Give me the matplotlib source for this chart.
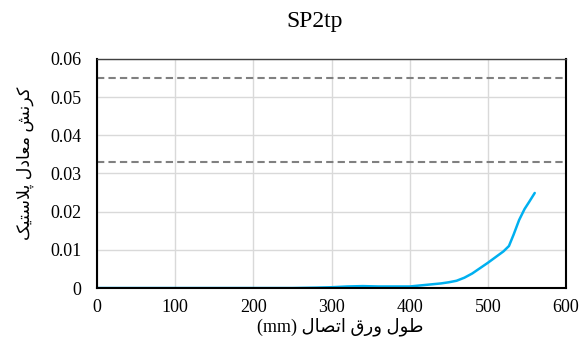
import matplotlib
matplotlib.use("Agg")
import matplotlib.pyplot as plt

# ---- data ----
x_mm = [0, 50, 100, 150, 200, 250, 280, 300, 320, 340, 360, 380, 400, 420, 440,
        450, 460, 470, 480, 490, 500, 510, 520, 527, 533, 540, 547, 553, 560]
peeq = [0, 0, 0, 0, 0, 0, 0.0001, 0.0002, 0.0004, 0.0005, 0.0004, 0.0004, 0.0004,
        0.0008, 0.0012, 0.0015, 0.0019, 0.0027, 0.0038, 0.0052, 0.0066, 0.0081,
        0.0096, 0.0110, 0.0140, 0.0178, 0.0207, 0.0226, 0.0249]
limit_lines = [0.055, 0.033]
x_ticks = [0, 100, 200, 300, 400, 500, 600]
y_ticks = [0, 0.01, 0.02, 0.03, 0.04, 0.05, 0.06]
y_tick_labels = ["0", "0.01", "0.02", "0.03", "0.04", "0.05", "0.06"]
title = "SP2tp"

# Persian labels pre-shaped (presentation forms, visual order)
def vis(s):
    return s[::-1]

# کرنش معادل پلاستیک
w1 = "\uFB90\uFEAE\uFEE7\uFEB6"               # کرنش
w2 = "\uFEE3\uFECC\uFE8E\uFEA9\uFEDD"         # معادل
w3 = "\uFB58\uFEFC\uFEB3\uFE98\uFBFF\uFB8F"   # پلاستیک
ylabel = vis(w1 + " " + w2 + " " + w3)
# طول ورق اتصال (mm)
v1 = "\uFEC3\uFEEE\uFEDD"                     # طول
v2 = "\uFEED\uFEAD\uFED5"                     # ورق
v3 = "\uFE8D\uFE97\uFEBC\uFE8E\uFEDD"         # اتصال
xlabel = "(mm) " + vis(v1 + " " + v2 + " " + v3)

plt.rcParams['font.family'] = ['Liberation Serif', 'DejaVu Sans']

fig = plt.figure(figsize=(5.82, 3.47), dpi=100)
ax = fig.add_axes([0.1667, 0.170, 0.8058, 0.660])

ax.grid(True, color="#d9d9d9", linewidth=1.0)
ax.set_axisbelow(True)
for yl in limit_lines:
    ax.axhline(yl, color="#808080", linestyle=(0, (3.5, 2.0)), linewidth=1.5)
ax.plot(x_mm, peeq, color="#00B0F0", linewidth=1.8, solid_capstyle="round")

ax.set_xlim(0, 600)
ax.set_ylim(0, 0.06)
ax.set_xticks(x_ticks)
ax.set_yticks(y_ticks)
ax.set_yticklabels(y_tick_labels)
ax.tick_params(length=0, labelsize=13)
ax.tick_params(axis="y", pad=11)
ax.tick_params(axis="x", pad=8)

for side in ["left", "bottom", "right"]:
    ax.spines[side].set_color("black")
    ax.spines[side].set_linewidth(1.5)
ax.spines["top"].set_color("#404040")
ax.spines["top"].set_linewidth(1.0)

fig.text(315 / 582, 1 - 22 / 347, title, fontsize=17, ha="center", va="center")
ax.set_xlabel(xlabel, fontsize=13)
ax.set_ylabel(ylabel, fontsize=12.5)
ax.xaxis.set_label_coords(0.518, -0.128)
ax.yaxis.set_label_coords(-0.135, 0.544)

fig.savefig("out.png", dpi=100)
